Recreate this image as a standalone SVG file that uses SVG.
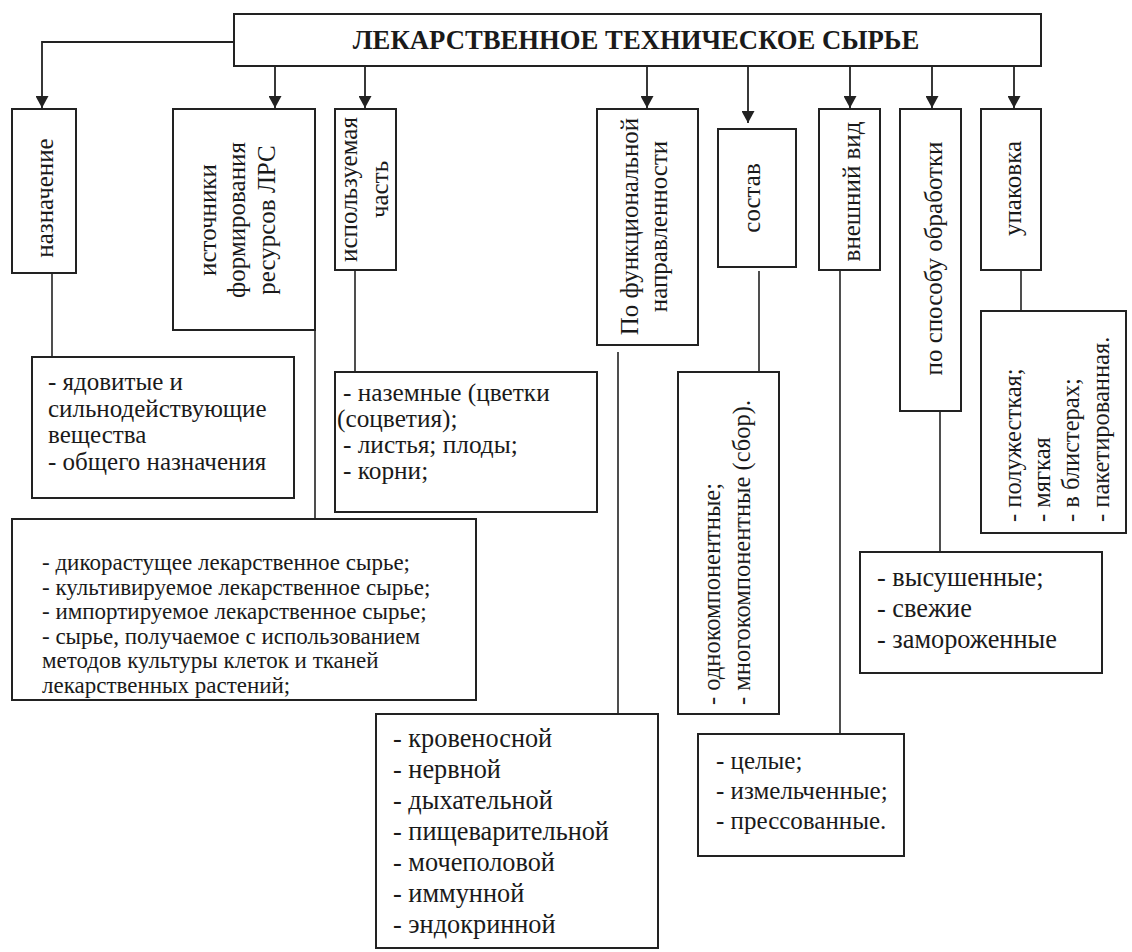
<svg xmlns="http://www.w3.org/2000/svg" width="1132" height="952" viewBox="0 0 1132 952" font-family="'Liberation Serif', 'Times New Roman', 'DejaVu Serif', serif">
<style>
.box{fill:#fff;stroke:#222;stroke-width:2}
.ln{fill:none;stroke:#222;stroke-width:1.6}
.ar{fill:none;stroke:#222;stroke-width:1.8}
text{fill:#1a1a1a}
.t{font-size:25px}
.v{font-size:25px;text-anchor:middle}
.vs{font-size:24.5px}
.title{font-size:26.7px;font-weight:bold;text-anchor:middle}
</style>
<defs>
<marker id="ah" markerUnits="userSpaceOnUse" markerWidth="13" markerHeight="13" refX="12" refY="6.5" orient="auto">
<path d="M0,0 L12,6.5 L0,13 z" fill="#222"/>
</marker>
</defs>
<g id="connectors">
<path class="ar" d="M234,42 H42 V108" marker-end="url(#ah)"/>
<path class="ar" d="M275,66 V108" marker-end="url(#ah)"/>
<path class="ar" d="M365,66 V108" marker-end="url(#ah)"/>
<path class="ar" d="M647,66 V108" marker-end="url(#ah)"/>
<path class="ar" d="M748,66 V123" marker-end="url(#ah)"/>
<path class="ar" d="M850,66 V108" marker-end="url(#ah)"/>
<path class="ar" d="M932,66 V108" marker-end="url(#ah)"/>
<path class="ar" d="M1014,66 V108" marker-end="url(#ah)"/>
<path class="ln" d="M52,273 V357"/>
<path class="ln" d="M315,330 V518"/>
<path class="ln" d="M355,270 V372"/>
<path class="ln" d="M618,352 V714"/>
<path class="ln" d="M759,271 V372"/>
<path class="ln" d="M840,270 V734"/>
<path class="ln" d="M940,411 V552"/>
<path class="ln" d="M1021,270 V311"/>
</g>
<g id="title">
<rect class="box" x="234" y="14" width="807" height="52"/>
<text class="title" x="636" y="49">ЛЕКАРСТВЕННОЕ ТЕХНИЧЕСКОЕ СЫРЬЕ</text>
</g>
<g id="naznachenie">
<rect class="box" x="12" y="109" width="64" height="164"/>
<text class="v" transform="translate(53,198) rotate(-90)">назначение</text>
</g>
<g id="istochniki">
<rect class="box" x="173" y="109" width="142" height="221"/>
<text class="v" transform="translate(216,220) rotate(-90)">источники</text>
<text class="v" transform="translate(245,220) rotate(-90)">формирования</text>
<text class="v" transform="translate(275,220) rotate(-90)">ресурсов ЛРС</text>
</g>
<g id="ispolzuemaya">
<rect class="box" x="335" y="109" width="61" height="161"/>
<text class="v" transform="translate(357,189.5) rotate(-90)">используемая</text>
<text class="v" transform="translate(388,189.5) rotate(-90)">часть</text>
</g>
<g id="funkc">
<rect class="box" x="597" y="109" width="101" height="236"/>
<text class="v" transform="translate(638,226.5) rotate(-90)">По функциональной</text>
<text class="v" transform="translate(667,226.5) rotate(-90)">направленности</text>
</g>
<g id="sostav">
<rect class="box" x="718" y="129" width="78" height="138"/>
<text class="v" transform="translate(760,198) rotate(-90)">состав</text>
</g>
<g id="vneshniy">
<rect class="box" x="819" y="109" width="61" height="161"/>
<text class="v" transform="translate(860,191.5) rotate(-90)">внешний вид</text>
</g>
<g id="obrabotka">
<rect class="box" x="900" y="109" width="61" height="302"/>
<text class="v" transform="translate(942,258.5) rotate(-90)">по способу обработки</text>
</g>
<g id="upakovka">
<rect class="box" x="981" y="109" width="60" height="161"/>
<text class="v" transform="translate(1021,188.5) rotate(-90)">упаковка</text>
</g>
<g id="yadovitye">
<rect class="box" x="32" y="357" width="262" height="141"/>
<text class="t" x="48" y="390">- ядовитые и</text>
<text class="t" x="48" y="416.5">сильнодействующие</text>
<text class="t" x="48" y="443">вещества</text>
<text class="t" x="48" y="469.5">- общего назначения</text>
</g>
<g id="nazemnye">
<rect class="box" x="335" y="372" width="262" height="140"/>
<text class="t" style="font-size:25.3px" x="343" y="401">- наземные (цветки</text>
<text class="t" style="font-size:25.3px" x="337" y="427">(соцветия);</text>
<text class="t" style="font-size:25.3px" x="343" y="453">- листья; плоды;</text>
<text class="t" style="font-size:25.3px" x="343" y="479">- корни;</text>
</g>
<g id="dikorastushchee">
<rect class="box" x="12" y="519" width="464" height="181"/>
<text class="t" style="font-size:23px" x="42" y="570">- дикорастущее лекарственное сырье;</text>
<text class="t" style="font-size:23px" x="42" y="594.6">- культивируемое лекарственное сырье;</text>
<text class="t" style="font-size:23px" x="42" y="619.2">- импортируемое лекарственное сырье;</text>
<text class="t" style="font-size:23px" x="42" y="643.8">- сырье, получаемое с использованием</text>
<text class="t" style="font-size:23px" x="42" y="668.4">методов культуры клеток и тканей</text>
<text class="t" style="font-size:23px" x="42" y="693">лекарственных растений;</text>
</g>
<g id="komponenty">
<rect class="box" x="678" y="372" width="101" height="342"/>
<text class="vs" transform="translate(720,705) rotate(-90)">- однокомпонентные;</text>
<text class="vs" transform="translate(750,705) rotate(-90)">- многокомпонентные (сбор).</text>
</g>
<g id="upakovka-list">
<rect class="box" x="981" y="311" width="145" height="222"/>
<text class="vs" transform="translate(1021,522) rotate(-90)">- полужесткая;</text>
<text class="vs" transform="translate(1050,522) rotate(-90)">- мягкая</text>
<text class="vs" transform="translate(1079,522) rotate(-90)">- в блистерах;</text>
<text class="vs" transform="translate(1109,522) rotate(-90)">- пакетированная.</text>
</g>
<g id="vysushennye">
<rect class="box" x="860" y="552" width="242" height="121"/>
<text class="t" style="font-size:26.3px" x="877" y="586">- высушенные;</text>
<text class="t" style="font-size:26.3px" x="877" y="617">- свежие</text>
<text class="t" style="font-size:26.3px" x="877" y="648">- замороженные</text>
</g>
<g id="krovenosnoy">
<rect class="box" x="376" y="714" width="282" height="234"/>
<text class="t" style="font-size:26.3px" x="393" y="747">- кровеносной</text>
<text class="t" style="font-size:26.3px" x="393" y="778">- нервной</text>
<text class="t" style="font-size:26.3px" x="393" y="809">- дыхательной</text>
<text class="t" style="font-size:26.3px" x="393" y="840">- пищеварительной</text>
<text class="t" style="font-size:26.3px" x="393" y="871">- мочеполовой</text>
<text class="t" style="font-size:26.3px" x="393" y="902">- иммунной</text>
<text class="t" style="font-size:26.3px" x="393" y="933">- эндокринной</text>
</g>
<g id="celye">
<rect class="box" x="698" y="734" width="206" height="122"/>
<text class="t" x="716" y="769">- целые;</text>
<text class="t" x="716" y="799">- измельченные;</text>
<text class="t" x="716" y="829">- прессованные.</text>
</g>
</svg>
